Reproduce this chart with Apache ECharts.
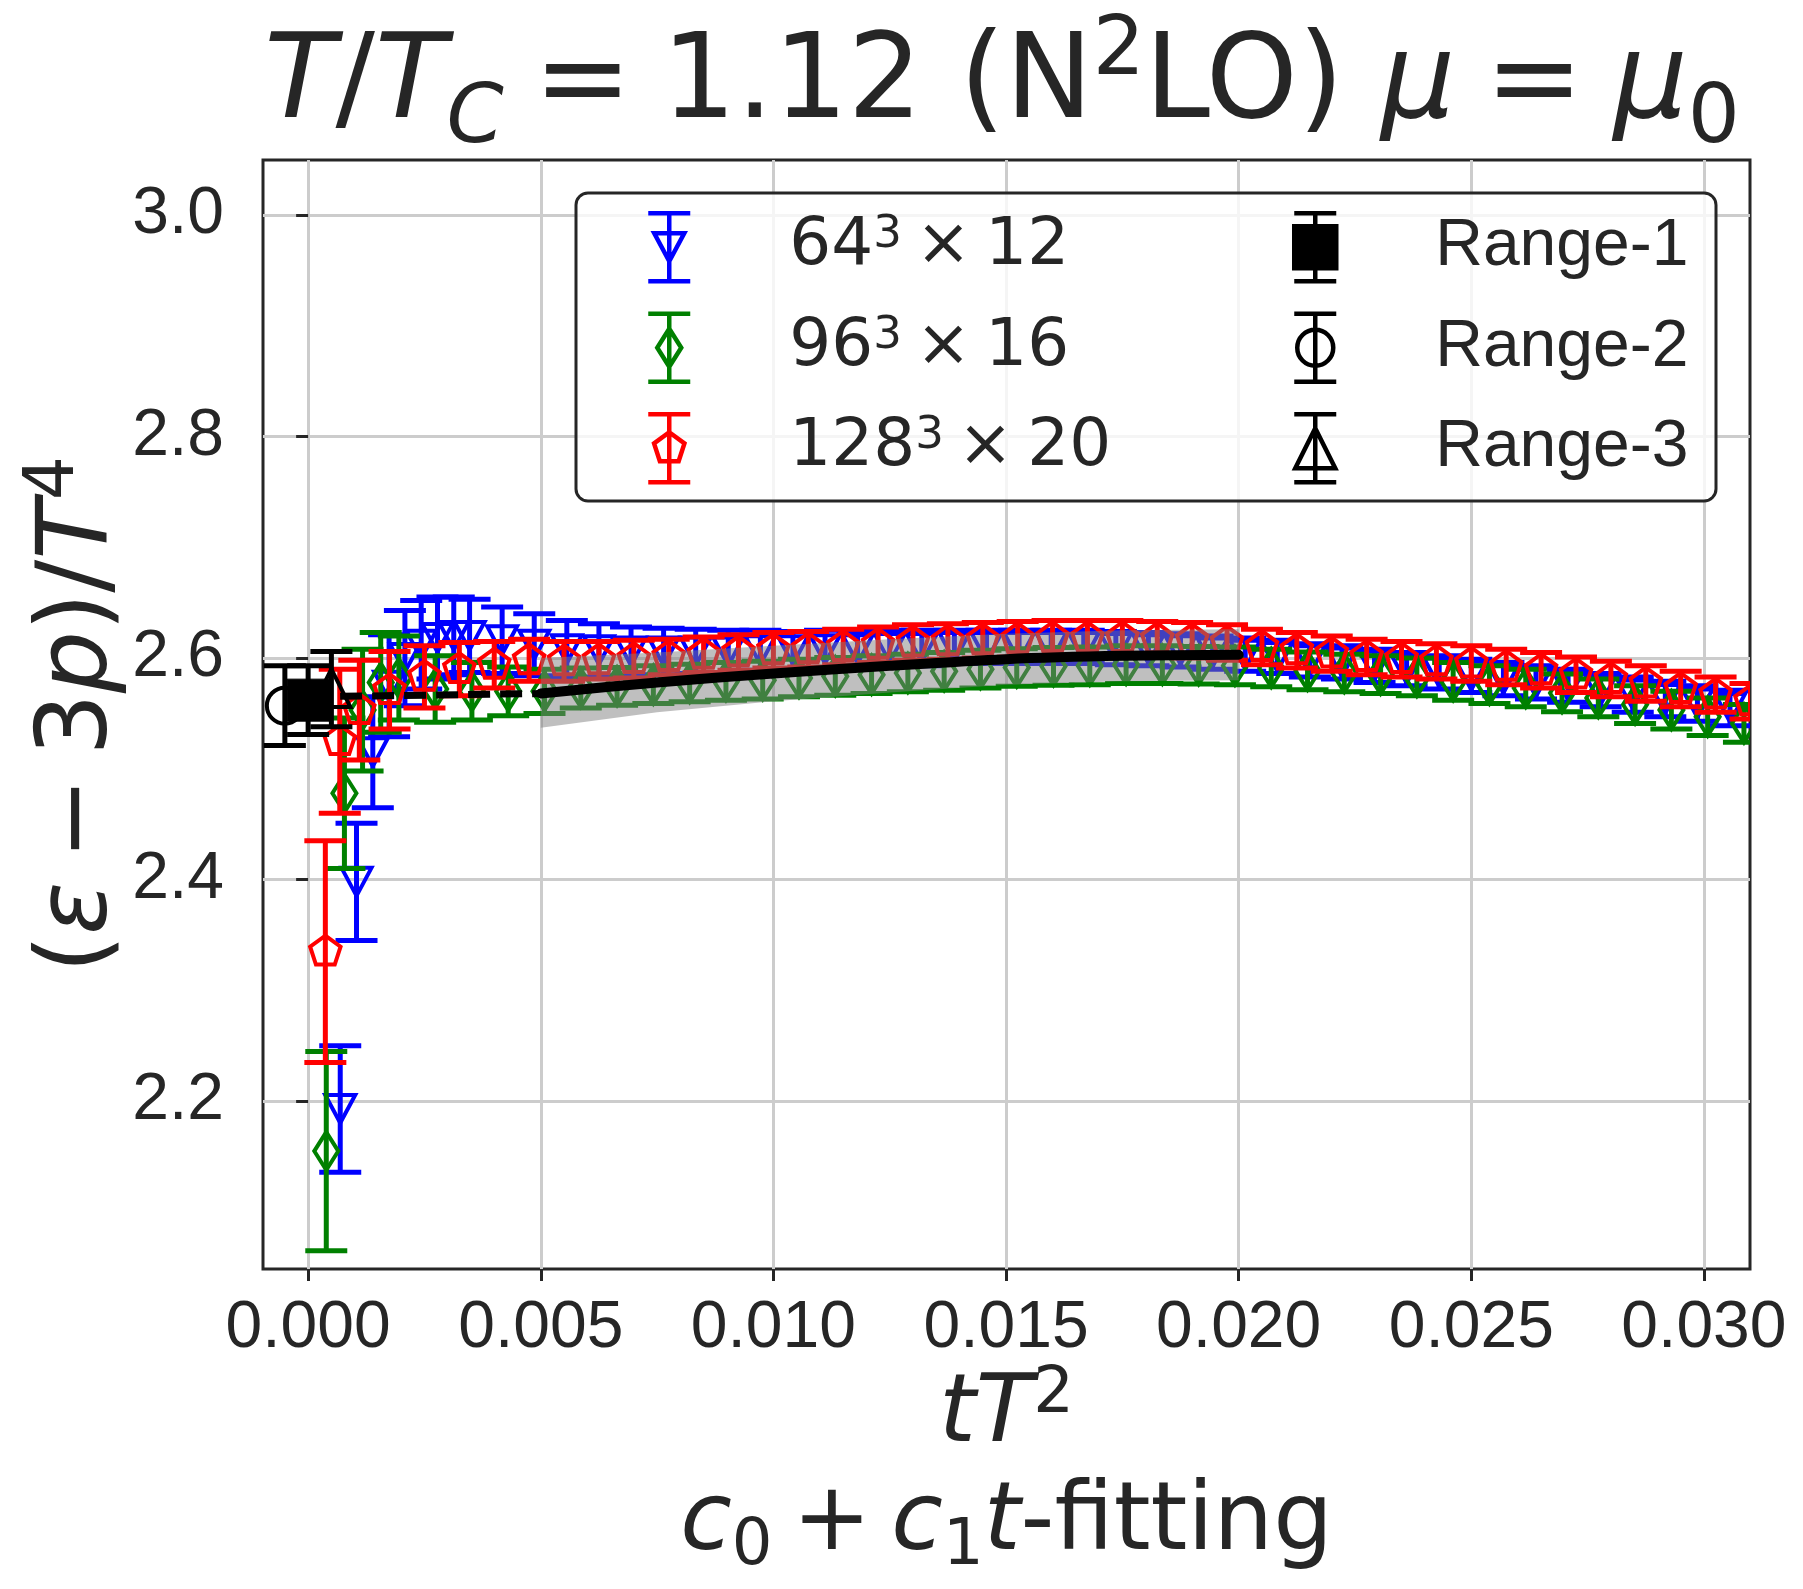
<!DOCTYPE html>
<html>
<head>
<meta charset="utf-8">
<script src="https://cdn.jsdelivr.net/npm/echarts/dist/echarts.min.js"></script>
<style>
html,body{margin:0;padding:0;background:#ffffff;}
#chart{width:1803px;height:1589px;}
</style>
</head>
<body>
<div id="chart"></div>
<script>
// ---------------- data ----------------
// 64^3 x 12  (blue, down triangles)
const blueX = [0.00069,0.00104,0.00139,0.00174,0.00208,0.00243,0.00278,0.00313,0.00347,
  0.00417,0.00486,0.00556,0.00625,0.00694,0.00764,0.00833,0.00903,0.00972,0.01042,
  0.01111,0.01181,0.01250,0.01319,0.01389,0.01458,0.01528,0.01597,0.01667,0.01736,
  0.01806,0.01875,0.01944,0.02014,0.02083,0.02153,0.02222,0.02292,0.02361,0.02431,
  0.02500,0.02569,0.02639,0.02708,0.02778,0.02847,0.02917,0.02986,0.03056];
const blueY = [2.193,2.398,2.515,2.575,2.600,2.612,2.618,2.620,2.620,
  2.616,2.612,2.608,2.607,2.606,2.606,2.606,2.606,2.607,2.607,
  2.608,2.608,2.609,2.609,2.610,2.610,2.610,2.610,2.610,2.609,
  2.608,2.607,2.605,2.603,2.601,2.598,2.596,2.593,2.590,2.587,
  2.584,2.581,2.578,2.575,2.571,2.567,2.563,2.559,2.555];
const blueErr = [0.057,0.053,0.050,0.046,0.043,0.040,0.037,0.035,0.033,
  0.030,0.028,0.026,0.024,0.022,0.021,0.020,0.019,0.018,0.017,
  0.017,0.016,0.016,0.016,0.015,0.015,0.015,0.015,0.015,0.015,
  0.015,0.015,0.015,0.015,0.015,0.015,0.015,0.015,0.015,0.015,
  0.015,0.015,0.015,0.015,0.015,0.016,0.016,0.016,0.016];

// 96^3 x 16  (green, thin diamonds)
const greenX = [0.00039,0.00078,0.00117,0.00156,0.00195,
  0.00273,0.00352,0.00430,0.00508,0.00586,0.00664,0.00742,0.00820,0.00898,0.00977,
  0.01055,0.01133,0.01211,0.01289,0.01367,0.01445,0.01523,0.01602,0.01680,0.01758,
  0.01836,0.01914,0.01992,0.02070,0.02148,0.02227,0.02305,0.02383,0.02461,0.02539,
  0.02617,0.02695,0.02773,0.02852,0.02930,0.03008,0.03086];
const greenY = [2.155,2.478,2.553,2.578,2.582,
  2.572,2.570,2.570,2.570,2.573,2.5745,2.576,2.5775,2.579,2.580,
  2.582,2.5835,2.585,2.5865,2.588,2.590,2.5915,2.5925,2.593,2.594,
  2.594,2.5935,2.593,2.591,2.5885,2.5865,2.585,2.583,2.579,2.576,
  2.573,2.5685,2.564,2.558,2.553,2.547,2.541];
const greenErr = [0.090,0.068,0.055,0.045,0.038,
  0.030,0.026,0.022,0.020,0.018,0.017,0.017,0.017,0.017,0.017,
  0.017,0.017,0.017,0.017,0.017,0.017,0.017,0.017,0.017,0.017,
  0.017,0.017,0.017,0.017,0.017,0.017,0.017,0.017,0.017,0.017,
  0.017,0.017,0.017,0.017,0.017,0.017,0.017];

// 128^3 x 20  (red, pentagons)
const redX = [0.00037,0.00068,0.00110,0.00175,
  0.00250,0.00325,0.00400,0.00475,0.00550,0.00625,0.00700,0.00775,0.00850,0.00925,
  0.01000,0.01075,0.01150,0.01225,0.01300,0.01375,0.01450,0.01525,0.01600,0.01675,
  0.01750,0.01825,0.01900,0.01975,0.02050,0.02125,0.02200,0.02275,0.02350,0.02425,
  0.02500,0.02575,0.02650,0.02725,0.02800,0.02875,0.02950,0.03025,0.03100];
const redY = [2.335,2.525,2.553,2.571,
  2.583,2.590,2.594,2.598,2.597,2.598,2.599,2.601,2.603,2.605,
  2.607,2.608,2.610,2.612,2.614,2.615,2.616,2.617,2.618,2.618,
  2.618,2.617,2.616,2.614,2.610,2.607,2.604,2.601,2.599,2.597,
  2.595,2.592,2.589,2.585,2.581,2.577,2.572,2.567,2.561];
const redErr = [0.100,0.065,0.045,0.035,
  0.028,0.024,0.021,0.019,0.018,0.017,0.017,0.016,0.016,0.016,
  0.016,0.016,0.016,0.016,0.016,0.016,0.016,0.016,0.016,0.016,
  0.016,0.016,0.016,0.016,0.016,0.016,0.016,0.016,0.016,0.016,
  0.016,0.016,0.016,0.016,0.016,0.016,0.016,0.016,0.016];

// continuum-extrapolated results (black)
const range1 = [0.0000, 2.562, 0.031];   // x, value, error
const range2 = [-0.0005, 2.557, 0.036];
const range3 = [0.0005, 2.572, 0.034];

// c0 + c1 t fit: central curve and error band
const fitX    = [0.0050, 0.0075, 0.0100, 0.0125, 0.0150, 0.0175, 0.0200];
const fitY    = [2.568, 2.578, 2.586, 2.593, 2.599, 2.602, 2.603];
const bandLow = [2.537, 2.551, 2.561, 2.569, 2.576, 2.579, 2.580];
const bandHigh= [2.600, 2.605, 2.611, 2.617, 2.622, 2.625, 2.626];
// dashed extrapolation to tT^2 = 0
const dashX = [0.0000, 0.0050];
const dashY = [2.565, 2.568];

// axes
const xTicks = [0.000, 0.005, 0.010, 0.015, 0.020, 0.025, 0.030];
const yTicks = [2.2, 2.4, 2.6, 2.8, 3.0];
const xRange = [-0.00097, 0.03099];
const yRange = [2.0486, 3.0495];

// names
const S_BLUE = '64^3 x 12', S_GREEN = '96^3 x 16', S_RED = '128^3 x 20';
const S_R1 = 'Range-1', S_R2 = 'Range-2', S_R3 = 'Range-3';

// ---------------- drawing helpers ----------------
const INK = '#262626';
const FONT_TXT = "'Liberation Sans', Arial, sans-serif";
const FONT_MATH = "'DejaVu Sans', sans-serif";
const BAR_W = 5, EDGE_W = 4;

function markerEl(shape, cx, cy, color) {
  const st = {fill: 'none', stroke: color, lineWidth: EDGE_W, lineJoin: 'miter'};
  switch (shape) {
    case 'tdown':
      return {type: 'polygon', shape: {points: [[cx - 15, cy - 14], [cx + 15, cy - 14], [cx, cy + 14]]}, style: st};
    case 'tup':
      return {type: 'polygon', shape: {points: [[cx, cy - 20], [cx + 19, cy + 18], [cx - 19, cy + 18]]}, style: st};
    case 'diamond':
      return {type: 'polygon', shape: {points: [[cx, cy - 19], [cx + 12, cy], [cx, cy + 19], [cx - 12, cy]]}, style: st};
    case 'pent': {
      const pts = [];
      for (let k = 0; k < 5; k++) {
        const a = (-90 + 72 * k) * Math.PI / 180;
        pts.push([cx + 16 * Math.cos(a), cy + 16 * Math.sin(a)]);
      }
      return {type: 'polygon', shape: {points: pts}, style: st};
    }
    case 'circle':
      return {type: 'circle', shape: {cx: cx, cy: cy, r: 18}, style: st};
    case 'square':
      return {type: 'rect', shape: {x: cx - 21, y: cy - 21, width: 42, height: 42}, style: {fill: color, stroke: color, lineWidth: 1}};
  }
}

function errRender(shape, color) {
  return function (params, api) {
    const x = api.value(0), y = api.value(1), e = api.value(2);
    const p = api.coord([x, y]);
    const top = api.coord([x, y + e])[1];
    const bot = api.coord([x, y - e])[1];
    const cx = p[0], cy = p[1];
    const ls = {stroke: color, lineWidth: BAR_W};
    return {
      type: 'group',
      children: [
        {type: 'line', shape: {x1: cx, y1: top, x2: cx, y2: bot}, style: ls},
        {type: 'line', shape: {x1: cx - 21, y1: top, x2: cx + 21, y2: top}, style: ls},
        {type: 'line', shape: {x1: cx - 21, y1: bot, x2: cx + 21, y2: bot}, style: ls},
        markerEl(shape, cx, cy, color)
      ]
    };
  };
}

function triples(xs, ys, es) { return xs.map((x, i) => [x, ys[i], es[i]]); }

function errSeries(name, xs, ys, es, shape, color) {
  return {
    name: name, type: 'custom', clip: true,
    data: triples(xs, ys, es),
    encode: {x: 0, y: 1},
    renderItem: errRender(shape, color),
    itemStyle: {color: color},
    emphasis: {disabled: true},
    silent: true
  };
}

const bandSeries = {
  name: 'band', type: 'custom', clip: true,
  data: fitX.map((x, i) => [x, bandLow[i], bandHigh[i]]),
  encode: {x: 0, y: [1, 2]},
  renderItem: function (params, api) {
    if (params.dataIndex !== 0) return null;
    const pts = [];
    for (let i = 0; i < fitX.length; i++) pts.push(api.coord([fitX[i], bandHigh[i]]));
    for (let i = fitX.length - 1; i >= 0; i--) pts.push(api.coord([fitX[i], bandLow[i]]));
    return {type: 'polygon', shape: {points: pts}, style: {fill: 'rgba(128,128,128,0.5)', stroke: 'none'}};
  },
  silent: true
};

const ICON_BAR = 'M21 0L21 68M0 0L42 0M0 68L42 68';
const icons = {
  [S_BLUE]:  'path://' + ICON_BAR + 'M6 20L36 20L21 48ZM136 34',
  [S_GREEN]: 'path://' + ICON_BAR + 'M21 15L33 34L21 53L9 34ZM136 34',
  [S_RED]:   'path://' + ICON_BAR + 'M21 18L36.2 29.1L30.4 46.9L11.6 46.9L5.8 29.1ZM136 34',
  [S_R1]:    'path://' + ICON_BAR + 'M0 13L42 13L42 55L0 55ZM136 34',
  [S_R2]:    'path://' + ICON_BAR + 'M39 34A18 18 0 1 1 3 34A18 18 0 1 1 39 34ZM136 34',
  [S_R3]:    'path://' + ICON_BAR + 'M21 14L41 54L1 54ZM136 34'
};
const legendRich = {
  [S_BLUE]:  '{m|64}{s|3}{x|×}{m|12}',
  [S_GREEN]: '{m|96}{s|3}{x|×}{m|16}',
  [S_RED]:   '{m|128}{s|3}{x|×}{m|20}',
  [S_R1]: '{n|Range-1}', [S_R2]: '{n|Range-2}', [S_R3]: '{n|Range-3}'
};
function legendItem(name, color, filled) {
  return {name: name, icon: icons[name],
    itemStyle: {color: filled ? color : 'rgba(0,0,0,0)', borderColor: color, borderWidth: 4.5, borderType: 'solid', opacity: 1}};
}
const legendText = {
  color: INK, fontFamily: FONT_TXT, fontSize: 66, fontWeight: 'normal',
  rich: {
    n: {fontSize: 66, fontFamily: FONT_TXT, color: INK, lineHeight: 68, fontWeight: 'normal'},
    m: {fontSize: 66, fontFamily: FONT_MATH, color: INK, lineHeight: 68, fontWeight: 'normal'},
    s: {fontSize: 45, fontFamily: FONT_MATH, color: INK, lineHeight: 34, verticalAlign: 'top', fontWeight: 'normal'},
    x: {fontSize: 66, fontFamily: FONT_MATH, color: INK, lineHeight: 68, padding: [0, 14, 0, 14], fontWeight: 'normal'}
  }
};
function legendBlock(left, items) {
  return {
    show: true, orient: 'vertical', left: left, top: 211, padding: 0,
    itemWidth: 136, itemHeight: 68, itemGap: 28, selectedMode: false,
    data: items, formatter: n => legendRich[n], textStyle: legendText
  };
}

const mathRich = (size, lh, subSize, subLh, opPad) => ({
  n:    {fontFamily: FONT_MATH, fontSize: size, lineHeight: lh, color: INK, fontWeight: 'normal'},
  i:    {fontFamily: FONT_MATH, fontSize: size, lineHeight: lh, color: INK, fontWeight: 'normal', fontStyle: 'italic'},
  op:   {fontFamily: FONT_MATH, fontSize: size, lineHeight: lh, color: INK, fontWeight: 'normal', padding: [0, opPad, 0, opPad]},
  sup:  {fontFamily: FONT_MATH, fontSize: subSize, lineHeight: subLh, color: INK, fontWeight: 'normal', verticalAlign: 'top'},
  sub:  {fontFamily: FONT_MATH, fontSize: subSize, lineHeight: subLh, color: INK, fontWeight: 'normal', verticalAlign: 'bottom'},
  isub: {fontFamily: FONT_MATH, fontSize: subSize, lineHeight: subLh, color: INK, fontWeight: 'normal', verticalAlign: 'bottom', fontStyle: 'italic'}
});

const chart = echarts.init(document.getElementById('chart'), null, {renderer: 'canvas'});
const option = {
  animation: false,
  backgroundColor: '#ffffff',
  textStyle: {fontFamily: FONT_TXT, color: INK},
  title: {
    text: '{i|T}{n|/}{i|T}{isub|C}{op|=}{n|1.12 (N}{sup|2}{n|LO) }{i|μ}{op|=}{i|μ}{sub|0}',
    left: 1002, top: 12, padding: 0, textAlign: 'center',
    textStyle: {fontWeight: 'normal', rich: mathRich(117, 150, 82, 83, 30)}
  },
  grid: {
    left: 263, right: 53, top: 160, bottom: 320,
    show: true, borderColor: INK, borderWidth: 3, backgroundColor: '#ffffff',
    containLabel: false, outerBoundsMode: 'none'
  },
  xAxis: {
    type: 'value', min: xRange[0], max: xRange[1],
    axisLine: {show: false},
    axisTick: {show: true, customValues: xTicks, length: 12, inside: false, lineStyle: {color: INK, width: 3}},
    axisLabel: {customValues: xTicks, formatter: v => v.toFixed(3), fontSize: 66, fontFamily: FONT_TXT, color: INK, margin: 27, showMinLabel: true, showMaxLabel: true},
    splitLine: {show: true, lineStyle: {color: '#cccccc', width: 3}},
    name: '{i|tT}{sup|2}\n{i|c}{sub|0}{op|+}{i|c}{sub|1}{i|t}{n|-fitting}',
    nameLocation: 'middle', nameGap: 94, nameMoveOverlap: false,
    nameTextStyle: {fontWeight: 'normal', rich: mathRich(94, 108, 64, 56, 20)}
  },
  yAxis: {
    type: 'value', min: yRange[0], max: yRange[1],
    axisLine: {show: false},
    axisTick: {show: true, customValues: yTicks, length: 12, inside: false, lineStyle: {color: INK, width: 3}},
    axisLabel: {customValues: yTicks, formatter: v => v.toFixed(1), fontSize: 66, fontFamily: FONT_TXT, color: INK, margin: 39, showMinLabel: true, showMaxLabel: true},
    splitLine: {show: true, lineStyle: {color: '#cccccc', width: 3}},
    name: '{n|(}{i|ε}{op|−}{n|3}{i|p}{n|)/}{i|T}{sup|4}',
    nameLocation: 'middle', nameGap: 122, nameRotate: 90, nameMoveOverlap: false,
    nameTextStyle: {fontWeight: 'normal', rich: mathRich(98, 120, 69, 60, 22)}
  },
  legend: [
    legendBlock(646, [legendItem(S_BLUE, '#0000ff'), legendItem(S_GREEN, '#008000'), legendItem(S_RED, '#ff0000')]),
    legendBlock(1292, [legendItem(S_R1, '#000000', true), legendItem(S_R2, '#000000'), legendItem(S_R3, '#000000')])
  ],
  graphic: [{
    type: 'rect', z: 3, silent: true,
    shape: {x: 576, y: 193, width: 1140, height: 308, r: 12},
    style: {fill: 'rgba(255,255,255,0.8)', stroke: INK, lineWidth: 3}
  }],
  series: [
    errSeries(S_BLUE, blueX, blueY, blueErr, 'tdown', '#0000ff'),
    errSeries(S_GREEN, greenX, greenY, greenErr, 'diamond', '#008000'),
    errSeries(S_RED, redX, redY, redErr, 'pent', '#ff0000'),
    bandSeries,
    {
      name: 'fit', type: 'line', data: fitX.map((x, i) => [x, fitY[i]]), smooth: 0.3,
      showSymbol: false, symbol: 'none', silent: true,
      lineStyle: {color: '#000000', width: 10, cap: 'round'}
    },
    {
      name: 'extrapolation', type: 'line', data: dashX.map((x, i) => [x, dashY[i]]),
      showSymbol: false, symbol: 'none', silent: true,
      lineStyle: {color: '#000000', width: 7, type: [22, 10]}
    },
    errSeries(S_R2, [range2[0]], [range2[1]], [range2[2]], 'circle', '#000000'),
    errSeries(S_R1, [range1[0]], [range1[1]], [range1[2]], 'square', '#000000'),
    errSeries(S_R3, [range3[0]], [range3[1]], [range3[2]], 'tup', '#000000')
  ]
};
chart.setOption(option);
</script>
</body>
</html>
